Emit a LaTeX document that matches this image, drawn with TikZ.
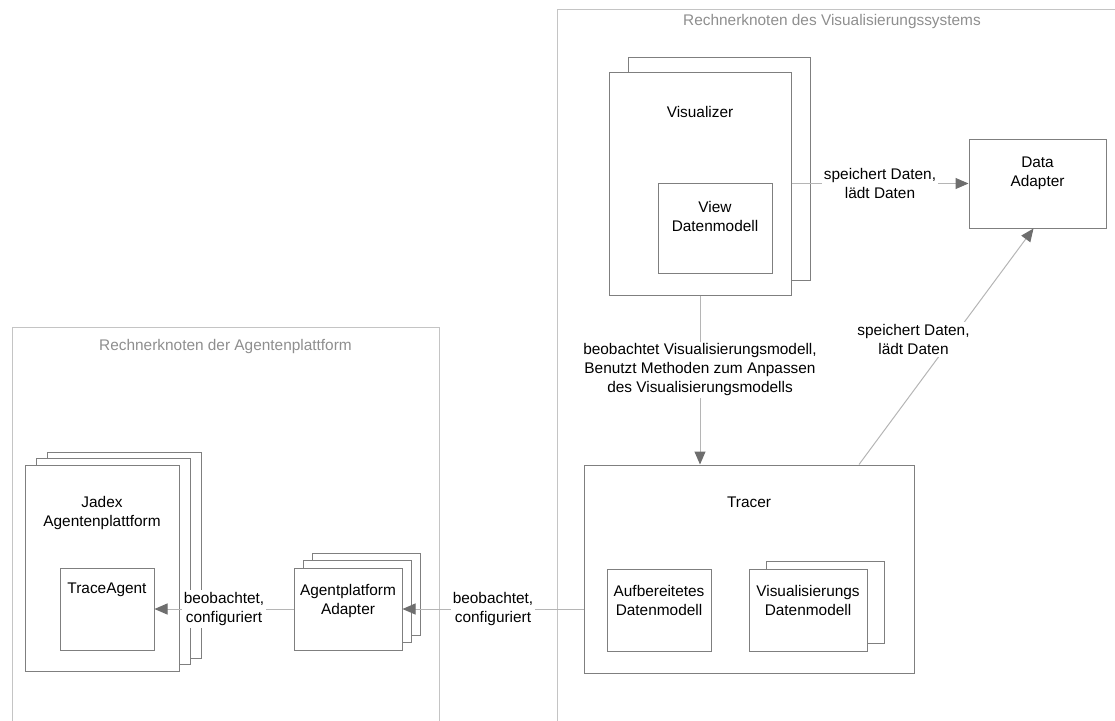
\documentclass[tikz,border=0pt]{standalone}
\usepackage{fontspec}
\setmainfont{Liberation Sans}
\usetikzlibrary{positioning}
\usetikzlibrary{arrows.meta}

\definecolor{framegray}{HTML}{C4C4C4}
\definecolor{boxgray}{HTML}{7F7F7F}
\definecolor{linegray}{HTML}{B5B5B5}
\definecolor{tipgray}{HTML}{6E6E6E}
\definecolor{titlegray}{HTML}{8E8E8E}

\tikzset{
  frame/.style={draw=framegray, line width=0.9pt},
  comp/.style={draw=boxgray, fill=white, line width=1pt, inner sep=0pt},
  ttl/.style={align=center, anchor=north, inner sep=0pt},
  conn/.style={draw=linegray, line width=1pt, -{Triangle[length=13pt,width=11pt,color=tipgray]}},
  lbl/.style={fill=white, align=center, inner sep=2pt},
}

\begin{document}
\begin{tikzpicture}[x=1pt, y=-1pt, font=\fontsize{15.4}{19}\selectfont]
  \clip (0,0) rectangle (1115,720);

  % Rechnerknoten
  \draw[frame] (12,760) -- (12,327) -- (439,327) -- (439,760);
  \draw[frame] (557,760) -- (557,9) -- (1160,9);
  \node[text=titlegray] (agtitle) at (225.5,347) {Rechnerknoten der Agentenplattform};
  \node[text=titlegray] (vistitle) at (832,22) {Rechnerknoten des Visualisierungssystems};

  % Agentenplattform
  \foreach \i in {2,1}
    \node[comp, minimum width=154pt, minimum height=206pt] (jadex\i) at (102+11*\i,568-6.5*\i) {};
  \node[comp, minimum width=154pt, minimum height=206pt,
        label={[ttl,yshift=-31.5pt]north:{Jadex\\Agentenplattform}}] (jadex) at (102,568) {};
  \node[comp, minimum width=94pt, minimum height=82pt,
        label={[ttl,yshift=-15.5pt]north:TraceAgent}] (traceagent) at (107,609) {};

  \foreach \i in {2,1}
    \node[comp, minimum width=108pt, minimum height=82pt] (apadapter\i) at (348+9*\i,609-7.5*\i) {};
  \node[comp, minimum width=108pt, minimum height=82pt,
        label={[ttl,yshift=-16.5pt]north:{Agentplatform\\Adapter}}] (apadapter) at (348,609) {};

  % Visualisierungssystem
  \node[comp, minimum width=182pt, minimum height=223pt] (visualizer1) at (719,168.5) {};
  \node[comp, minimum width=182pt, minimum height=223pt,
        label={[ttl,yshift=-34.5pt]north:Visualizer}] (visualizer) at (700,183.5) {};
  \node[comp, minimum width=114pt, minimum height=90pt,
        label={[ttl,yshift=-18.5pt]north:{View\\Datenmodell}}] (viewdm) at (715,228) {};

  \node[comp, minimum width=137pt, minimum height=89pt,
        label={[ttl,yshift=-18.5pt]north:{Data\\Adapter}}] (dataadapter) at (1037.5,183.5) {};

  \node[comp, minimum width=330pt, minimum height=208pt,
        label={[ttl,yshift=-32.5pt]north:Tracer}] (tracer) at (749,569) {};
  \node[comp, minimum width=104pt, minimum height=82pt,
        label={[ttl,yshift=-16.5pt]north:{Aufbereitetes\\Datenmodell}}] (aufdm) at (659,610) {};
  \node[comp, minimum width=118pt, minimum height=82pt] (visdm1) at (825,602) {};
  \node[comp, minimum width=118pt, minimum height=82pt,
        label={[ttl,yshift=-16.5pt]north:{Visualisierungs\\Datenmodell}}] (visdm) at (808,610) {};

  % Verbindungen
  \draw[conn] (tracer.west |- apadapter.east) -- node[lbl]{beobachtet,\\configuriert} (apadapter.east);
  \draw[conn] (apadapter.west) -- node[lbl]{beobachtet,\\configuriert} (traceagent.east);
  \draw[conn] (visualizer.south) -- node[lbl, pos=0.44]{beobachtet Visualisierungsmodell,\\Benutzt Methoden zum Anpassen\\des Visualisierungsmodells} (visualizer.south |- tracer.north);
  \draw[conn] (visualizer.east) -- node[lbl]{speichert Daten,\\lädt Daten} (dataadapter.west);
  \draw[conn] ([xshift=110pt]tracer.north) -- node[lbl, pos=0.53, xshift=-38pt]{speichert Daten,\\lädt Daten} ([xshift=-4pt]dataadapter.south);
\end{tikzpicture}
\end{document}
